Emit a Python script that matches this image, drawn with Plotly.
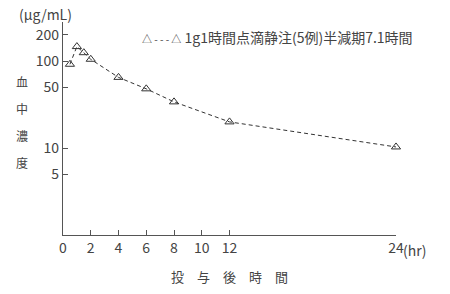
import plotly.graph_objects as go

# ---- data ----
hours = [0.5, 1, 1.5, 2, 4, 6, 8, 12, 24]
conc = [92, 147, 125, 105, 65, 48, 34, 20, 10.3]
x_ticks = [0, 2, 4, 6, 8, 10, 12, 24]
x_tick_text = ["0", "2", "4", "6", "8", "10", "12", "24"]
y_ticks = [200, 100, 50, 10, 5]
y_tick_text = ["200", "100", "50", "10", "5"]
series_name = "1g1時間点滴静注(5例)半減期7.1時間"
legend_symbol = "△ - - - △"
y_title_chars = ["血", "中", "濃", "度"]
x_title = "投　与　後　時　間"
unit_y = "(μg/mL)"
unit_x = "(hr)"

FONT = "Noto Sans CJK JP"
TXT = "#444444"
AX = "#555555"

fig = go.Figure()
fig.add_trace(go.Scatter(
    x=hours, y=conc, name=series_name, mode="lines+markers",
    line=dict(color="#333333", width=1, dash="4px,3px"),
    marker=dict(symbol="triangle-up-open", size=8, color="#333333",
                line=dict(width=1, color="#333333")),
    cliponaxis=False, showlegend=False,
))

fig.update_layout(
    width=450, height=294,
    margin=dict(l=63, r=54, t=22, b=50),
    paper_bgcolor="white", plot_bgcolor="white",
    font=dict(family=FONT, size=13, color=TXT),
    showlegend=False,
    xaxis=dict(range=[0, 24], showgrid=False, zeroline=False,
               showline=True, linecolor=AX, linewidth=1.2,
               tickvals=x_ticks, ticktext=x_tick_text,
               ticks="inside", ticklen=5, tickcolor=AX,
               tickfont=dict(size=14, color=TXT),
               title=dict(text=x_title, font=dict(size=13, color=TXT), standoff=16)),
    yaxis=dict(type="log", range=[0, 2.45], showgrid=False, zeroline=False,
               showline=True, linecolor=AX, linewidth=1.2,
               tickvals=y_ticks, ticktext=y_tick_text,
               ticks="inside", ticklen=5, tickcolor=AX,
               tickfont=dict(size=14, color=TXT)),
)

# legend drawn as text (symbol with triangles at both ends, as in the reference)
fig.add_annotation(text="<span style='font-size:10px'>" + legend_symbol + "</span> " + series_name,
                   xref="paper", yref="paper", x=(140 - 63) / 333, y=(244 - 38) / 222,
                   xanchor="left", yanchor="middle", showarrow=False,
                   font=dict(size=14, color=TXT))

# y-axis unit and x-axis unit
fig.add_annotation(text=unit_y, xref="paper", yref="paper", x=0, y=1,
                   xanchor="center", yanchor="bottom", xshift=-18, yshift=-4,
                   showarrow=False, font=dict(size=14, color=TXT))
fig.add_annotation(text=unit_x, xref="x", yref="paper", x=24, y=0,
                   xanchor="left", yanchor="top", xshift=5, yshift=-3,
                   showarrow=False, font=dict(size=14, color=TXT))

# vertical y-axis title, one character per row
for i, ch in enumerate(y_title_chars):
    fig.add_annotation(text=ch, xref="paper", yref="paper", x=0, y=1,
                       xanchor="center", yanchor="middle",
                       xshift=-41, yshift=-(59 + 27 * i),
                       showarrow=False, font=dict(size=12, color=TXT))

fig.write_html("out.html")
